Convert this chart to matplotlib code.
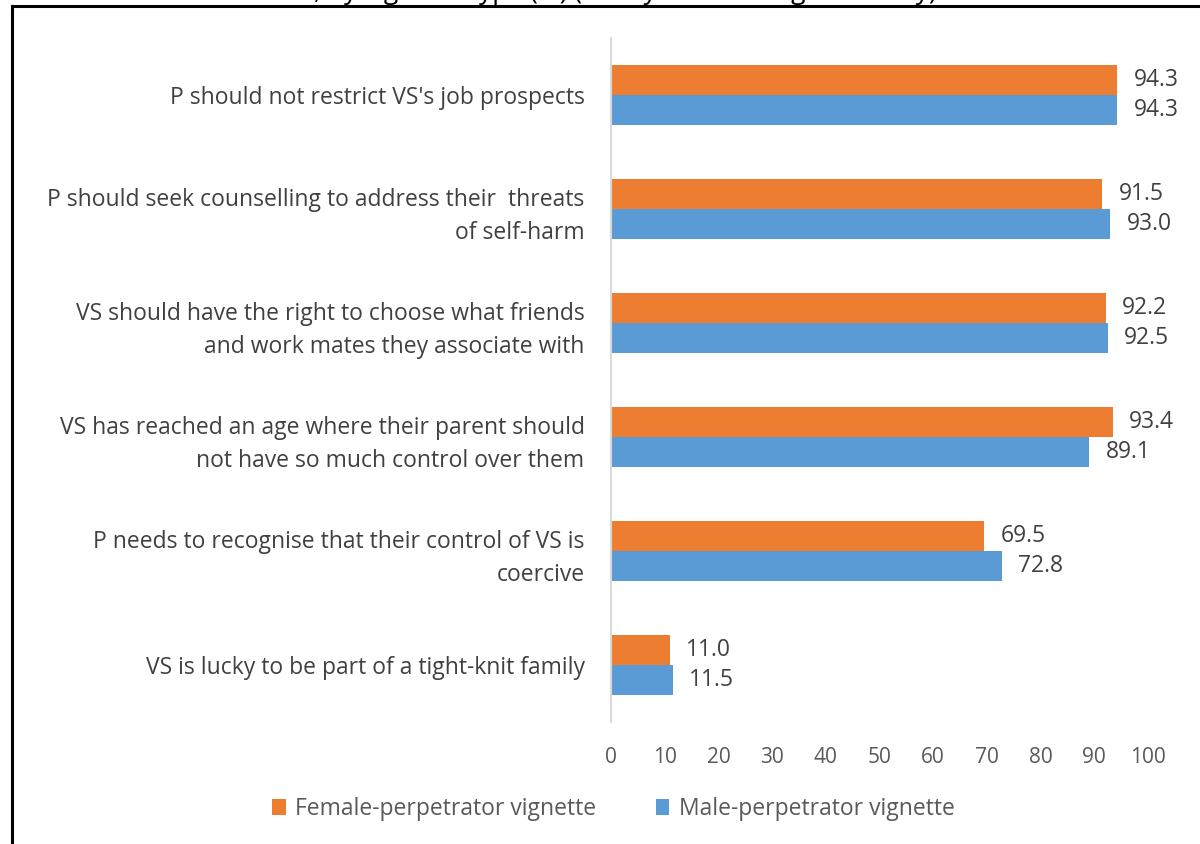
import numpy as np
import matplotlib
matplotlib.use('Agg')
import matplotlib.pyplot as plt
from matplotlib.lines import Line2D

plt.rcParams['font.family'] = ['Open Sans', 'DejaVu Sans']

categories = [
    "P should not restrict VS's job prospects",
    "P should seek counselling to address their  threats\nof self-harm",
    "VS should have the right to choose what friends\nand work mates they associate with",
    "VS has reached an age where their parent should\nnot have so much control over them",
    "P needs to recognise that their control of VS is\ncoercive",
    "VS is lucky to be part of a tight-knit family",
]
female = [94.3, 91.5, 92.2, 93.4, 69.5, 11.0]
male = [94.3, 93.0, 92.5, 89.1, 72.8, 11.5]
series_names = ['Female-perpetrator vignette', 'Male-perpetrator vignette']
title = 'statements, by vignette type (%) (family violence vignette only)'

orange = '#ED7D31'
blue = '#5B9BD5'

fig = plt.figure(figsize=(12, 8.44), dpi=100)
ax = fig.add_axes([611/1200, 1-722/844, (1148-611)/1200, (722-38)/844])

n = len(categories)
y = np.arange(n)
h = 0.263
ax.barh(y - h/2, female, height=h, color=orange, label=series_names[0])
ax.barh(y + h/2, male, height=h, color=blue, label=series_names[1])

for i in range(n):
    ax.text(female[i] + 3, y[i] - h/2, f'{female[i]:.1f}', va='center', ha='left',
            fontsize=16.5, color='#404040')
    ax.text(male[i] + 3, y[i] + h/2, f'{male[i]:.1f}', va='center', ha='left',
            fontsize=16.5, color='#404040')

ax.set_ylim(n - 0.5, -0.5)
ax.set_xlim(0, 100)
ax.set_xticks(range(0, 101, 10))
ax.set_yticks(y)
ax.set_yticklabels(categories, fontsize=16.5, color='#404040', linespacing=1.48)
ax.tick_params(axis='x', length=0, labelsize=15, labelcolor='#595959', pad=18)
ax.tick_params(axis='y', length=0, pad=19)
for s in ['top', 'right', 'bottom']:
    ax.spines[s].set_visible(False)
ax.spines['left'].set_color('#D9D9D9')
ax.spines['left'].set_linewidth(1.5)

leg = fig.legend(loc='center', bbox_to_anchor=(0.511, 1-809/844), ncol=2, frameon=False,
                 fontsize=16.5, handlelength=0.6, handleheight=0.75, handletextpad=0.4,
                 columnspacing=2.6)
for t in leg.get_texts():
    t.set_color('#595959')

# frame of the cropped box and clipped title
fig.add_artist(Line2D([12/1200, 12/1200], [0, 1-6/844], transform=fig.transFigure,
                      color='black', lw=2.2))
fig.add_artist(Line2D([12/1200, 1], [1-6/844, 1-6/844], transform=fig.transFigure,
                      color='black', lw=2.2))
fig.text(556/1200, 1 + 1/844, title, ha='center', va='baseline', fontsize=19, color='black')

fig.savefig('out.png', dpi=100)
